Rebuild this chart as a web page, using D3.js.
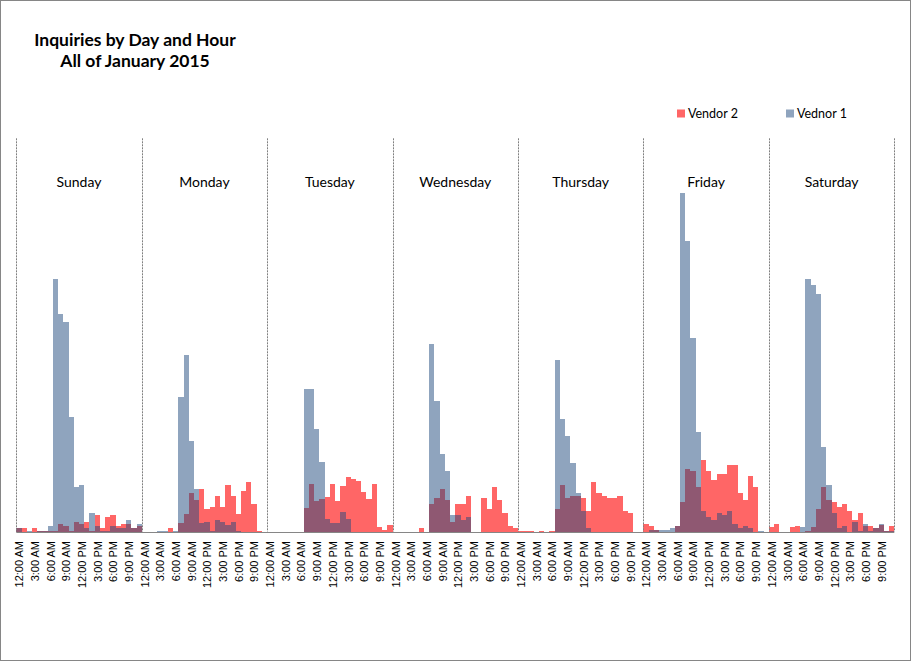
<!DOCTYPE html>
<html>
<head>
<meta charset="utf-8">
<script src="https://cdn.jsdelivr.net/npm/d3@7"></script>
<style>
  html, body { margin: 0; padding: 0; background: #fff; }
  svg { display: block; }
</style>
</head>
<body>
<svg id="chart" width="912" height="662"></svg>
<script>
// ---------------- DATA ----------------
const days = ["Sunday", "Monday", "Tuesday", "Wednesday", "Thursday", "Friday", "Saturday"];
const hourLabels = ["12:00 AM","1:00 AM","2:00 AM","3:00 AM","4:00 AM","5:00 AM","6:00 AM","7:00 AM",
  "8:00 AM","9:00 AM","10:00 AM","11:00 AM","12:00 PM","1:00 PM","2:00 PM","3:00 PM","4:00 PM",
  "5:00 PM","6:00 PM","7:00 PM","8:00 PM","9:00 PM","10:00 PM","11:00 PM"];
const tickHours = [0, 3, 6, 9, 12, 15, 18, 21];
const seriesNames = ["Vendor 2", "Vednor 1"];

// Vednor 1 (blue), one row per day, 24 hourly values
const vendor1 = [
  [4,0,0.7,0,0.7,0.7,5.7,252.7,217.7,209.7,114.7,44.7,46.7,4,18.7,5.7,0.7,0.7,5.7,4,4,11.7,4,7.7],
  [0,0,0,0.7,0.7,0,1,135,177,91,43,8.3,10,1,12,10,6.3,10,1,0,0,0,0,0],
  [0,0,0,0,0,0,0,142.3,142.3,102.3,69.3,12.3,8.3,8.3,19.3,12.3,0,0,0,0,0,0,0,0],
  [0,0,0,0,0,0,0,188,131,78,61,17,17,12,15,0,0,0,0,0,0,0,0,0],
  [0,0,0,0,0,0,0,172,113,96,69,39,21,4,0,0,0,0,0,0,0,0,0,0],
  [0,1.3,1.3,1.3,1.3,3.7,5.3,338.7,290.3,193.3,99.3,20.3,14.3,11.3,18.3,16.3,20.3,7.3,3.3,5.3,3.3,0,0.7,0],
  [0,0,0,0,0,0,4.3,253,247,238,85,47,19,4,6,0,10,1,8,1,4,8,1,1]
];
// Vendor 2 (red), one row per day, 24 hourly values
const vendor2 = [
  [4,4,0,4,0.7,0.7,0.7,0.5,7.7,5.7,1,9.7,7.7,9.7,0.7,16.7,4,14.7,16.7,5.7,7.7,7.7,4,5.7],
  [0,0,0,0,0,4,0,8.3,17.3,39,32,43,23,25,36,25,47,36,17.3,41,50,28,1,0],
  [0,0,0,0,0,0,0,23.3,47.3,30.3,32.3,34.3,47.3,30.3,45.3,54.3,52.3,50.3,39.3,32.3,47.3,4.3,1.3,6.3],
  [0,0,0,0,0,4,0,28,34,43,32,10,28,28,36,0,0,34,23,45,32,19,6,4],
  [1,1,1,0,1,0,1,23,47,34,36,36,34,21,50,39,36,34,34,36,21,19,0,0],
  [8,5.3,1.3,0,0,0,5.3,29.3,62.3,60.3,44.3,71.3,60.3,51.3,57.3,57.3,66.3,66.3,38.3,31.3,55.3,44.3,0,0],
  [4.3,8,0,0,4.3,6,0,1,4.3,23,45,32,30,25,28,21,12,19,6,6,4,7,1,6]
];

// ---------------- LAYOUT ----------------
const plot = { left: 16.3, right: 894.3, top: 138.3, base: 531.7 };
const svg = d3.select("#chart");

// flatten to slot records
const slots = [];
days.forEach((day, d) => {
  for (let h = 0; h < 24; h++) {
    slots.push({ idx: d * 24 + h, day, d, h, v1: vendor1[d][h], v2: vendor2[d][h] });
  }
});

const x = d3.scaleBand().domain(d3.range(slots.length)).range([plot.left, plot.right]).padding(0);
const dayX = d3.scaleBand().domain(days).range([plot.left, plot.right]).padding(0);
const y = d3.scaleLinear().domain([0, 400]).range([plot.base, plot.base - 400]);

// outer border
svg.append("rect").attr("x", 0.5).attr("y", 0.5).attr("width", 910).attr("height", 660)
  .attr("fill", "#fff").attr("stroke", "#868686").attr("stroke-width", 1);

// title
const title = svg.append("text").attr("text-anchor", "middle")
  .attr("font-family", "Lato, 'Open Sans', sans-serif").attr("font-weight", "bold")
  .attr("font-size", 17.5).attr("fill", "#000");
title.append("tspan").attr("x", 135).attr("y", 46).text("Inquiries by Day and Hour");
title.append("tspan").attr("x", 135).attr("y", 67).text("All of January 2015");

// bars: Vendor 2 (red) beneath, Vednor 1 (blue, translucent) on top
const bars = svg.append("g").attr("shape-rendering", "crispEdges");
bars.selectAll("rect.v2").data(slots).join("rect").attr("class", "v2")
  .attr("x", d => x(d.idx)).attr("width", x.bandwidth())
  .attr("y", d => y(d.v2)).attr("height", d => y(0) - y(d.v2))
  .attr("fill", "#FF6666");
bars.selectAll("rect.v1").data(slots).join("rect").attr("class", "v1")
  .attr("x", d => x(d.idx)).attr("width", x.bandwidth())
  .attr("y", d => y(d.v1)).attr("height", d => y(0) - y(d.v1))
  .attr("fill", "#1F497D").attr("fill-opacity", 0.5);

// day separators (dashed)
const bounds = days.map(d => dayX(d)).concat([plot.right]);
svg.append("g").selectAll("line").data(bounds).join("line")
  .attr("x1", d => Math.round(d) + 0.5).attr("x2", d => Math.round(d) + 0.5)
  .attr("y1", plot.top).attr("y2", plot.base)
  .attr("stroke", "#7F7F7F").attr("stroke-width", 1).attr("stroke-dasharray", "2,1");

// day labels
svg.append("g").selectAll("text").data(days).join("text")
  .attr("x", d => dayX(d) + dayX.bandwidth() / 2).attr("y", 187)
  .attr("text-anchor", "middle")
  .attr("font-family", "Lato, 'Open Sans', sans-serif").attr("font-size", 14).attr("fill", "#000")
  .text(d => d);

// x axis line
svg.append("line").attr("x1", plot.left).attr("x2", plot.right)
  .attr("y1", Math.round(plot.base) + 0.5).attr("y2", Math.round(plot.base) + 0.5)
  .attr("stroke", "#868686").attr("stroke-width", 1);

// tick labels
const ticks = slots.filter(s => tickHours.includes(s.h));
svg.append("g").selectAll("text").data(ticks).join("text")
  .attr("transform", d => `translate(${x(d.idx) + x.bandwidth() / 2 + 0.5},541) rotate(-90)`)
  .attr("text-anchor", "end").attr("dy", "0.35em")
  .attr("font-family", "'Liberation Sans', Arial, sans-serif").attr("font-size", 11).attr("fill", "#000")
  .text(d => hourLabels[d.h]);

// legend
const legendItems = [
  { name: seriesNames[0], color: "#FF6666", opacity: 1, x: 677 },
  { name: seriesNames[1], color: "#1F497D", opacity: 0.5, x: 786 }
];
const lg = svg.append("g").selectAll("g").data(legendItems).join("g")
  .attr("transform", d => `translate(${d.x},109.5)`);
lg.append("rect").attr("width", 8).attr("height", 8)
  .attr("fill", d => d.color).attr("fill-opacity", d => d.opacity);
lg.append("text").attr("x", 11).attr("y", 8)
  .attr("font-family", "Lato, 'Open Sans', sans-serif").attr("font-size", 12.5).attr("fill", "#000")
  .text(d => d.name);
</script>
</body>
</html>
